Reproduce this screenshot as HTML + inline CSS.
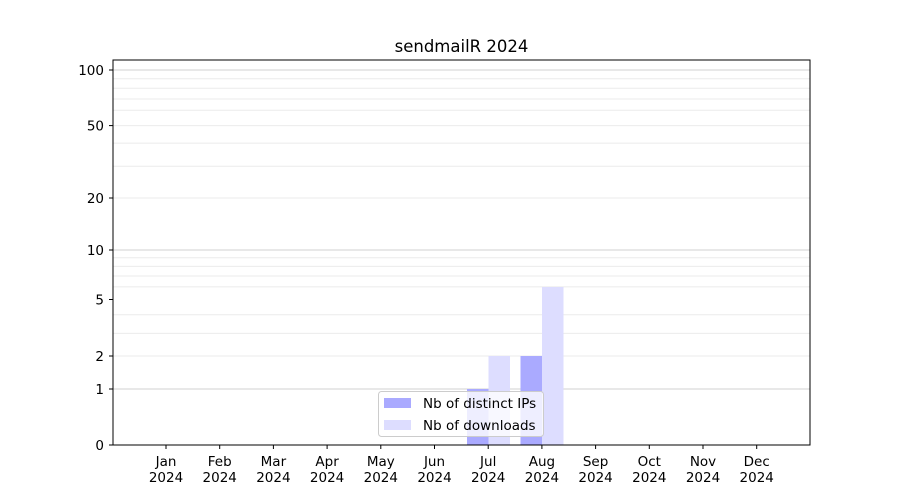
<!DOCTYPE html>
<html><head><meta charset="utf-8"><style>
html,body{margin:0;padding:0;background:#fff;}
svg{display:block;font-family:"DejaVu Sans","Liberation Sans",sans-serif;}
</style></head><body>
<svg width="900" height="500" xmlns="http://www.w3.org/2000/svg">
<rect width="900" height="500" fill="#fff"/>
<g stroke="#ebebeb" stroke-width="1">
<line x1="113" x2="810" y1="333.4" y2="333.4"/>
<line x1="113" x2="810" y1="314.8" y2="314.8"/>
<line x1="113" x2="810" y1="286.9" y2="286.9"/>
<line x1="113" x2="810" y1="276.0" y2="276.0"/>
<line x1="113" x2="810" y1="266.4" y2="266.4"/>
<line x1="113" x2="810" y1="257.8" y2="257.8"/>
<line x1="113" x2="810" y1="198.0" y2="198.0"/>
<line x1="113" x2="810" y1="166.2" y2="166.2"/>
<line x1="113" x2="810" y1="143.1" y2="143.1"/>
<line x1="113" x2="810" y1="125.6" y2="125.6"/>
<line x1="113" x2="810" y1="110.3" y2="110.3"/>
<line x1="113" x2="810" y1="99.0" y2="99.0"/>
<line x1="113" x2="810" y1="88.2" y2="88.2"/>
<line x1="113" x2="810" y1="78.7" y2="78.7"/>
<line x1="113" x2="810" y1="356" y2="356"/>
</g>
<g stroke="#d0d0d0" stroke-width="1">
<line x1="113" x2="810" y1="389" y2="389"/>
<line x1="113" x2="810" y1="250" y2="250"/>
<line x1="113" x2="810" y1="70" y2="70"/>
</g>
<rect x="467" y="389" width="21.5" height="56" fill="#aaaaff"/>
<rect x="488.5" y="356" width="21.5" height="89" fill="#ddddff"/>
<rect x="520.5" y="356" width="21.5" height="89" fill="#aaaaff"/>
<rect x="542" y="287" width="21.5" height="158" fill="#ddddff"/>
<rect x="113" y="60" width="697" height="385" fill="none" stroke="#000" stroke-width="1"/>
<g font-size="13.5" fill="#000" text-anchor="end">
<g stroke="#000"><line x1="109" x2="113" y1="445" y2="445"/><line x1="109" x2="113" y1="389" y2="389"/><line x1="109" x2="113" y1="356" y2="356"/><line x1="109" x2="113" y1="299.5" y2="299.5"/><line x1="109" x2="113" y1="250" y2="250"/><line x1="109" x2="113" y1="198" y2="198"/><line x1="109" x2="113" y1="125.6" y2="125.6"/><line x1="109" x2="113" y1="70" y2="70"/></g>
<text x="104" y="450">0</text><text x="104" y="394">1</text><text x="104" y="361">2</text><text x="104" y="304.5">5</text><text x="104" y="255">10</text><text x="104" y="203">20</text><text x="104" y="130.6">50</text><text x="104" y="75">100</text>
</g>
<text x="461.5" y="52" font-size="16.5" text-anchor="middle">sendmailR 2024</text>
<g font-size="13.5" fill="#000" text-anchor="middle">
<g stroke="#000">
<line x1="166" x2="166" y1="445" y2="449"/><line x1="219.7" x2="219.7" y1="445" y2="449"/><line x1="273.4" x2="273.4" y1="445" y2="449"/><line x1="327.1" x2="327.1" y1="445" y2="449"/><line x1="380.8" x2="380.8" y1="445" y2="449"/><line x1="434.5" x2="434.5" y1="445" y2="449"/><line x1="488.2" x2="488.2" y1="445" y2="449"/><line x1="541.9" x2="541.9" y1="445" y2="449"/><line x1="595.6" x2="595.6" y1="445" y2="449"/><line x1="649.3" x2="649.3" y1="445" y2="449"/><line x1="703" x2="703" y1="445" y2="449"/><line x1="756.7" x2="756.7" y1="445" y2="449"/>
</g>
<text x="166" y="466">Jan</text><text x="166" y="482">2024</text>
<text x="219.7" y="466">Feb</text><text x="219.7" y="482">2024</text>
<text x="273.4" y="466">Mar</text><text x="273.4" y="482">2024</text>
<text x="327.1" y="466">Apr</text><text x="327.1" y="482">2024</text>
<text x="380.8" y="466">May</text><text x="380.8" y="482">2024</text>
<text x="434.5" y="466">Jun</text><text x="434.5" y="482">2024</text>
<text x="488.2" y="466">Jul</text><text x="488.2" y="482">2024</text>
<text x="541.9" y="466">Aug</text><text x="541.9" y="482">2024</text>
<text x="595.6" y="466">Sep</text><text x="595.6" y="482">2024</text>
<text x="649.3" y="466">Oct</text><text x="649.3" y="482">2024</text>
<text x="703" y="466">Nov</text><text x="703" y="482">2024</text>
<text x="756.7" y="466">Dec</text><text x="756.7" y="482">2024</text>
</g>
<rect x="378.5" y="391.5" width="165" height="45" rx="3" fill="#fff" fill-opacity="0.8" stroke="#cccccc"/>
<rect x="384" y="398" width="27" height="10" fill="#aaaaff"/>
<rect x="384" y="420" width="27" height="10" fill="#ddddff"/>
<text x="423" y="408" font-size="13.5">Nb of distinct IPs</text>
<text x="423" y="430" font-size="13.5">Nb of downloads</text>
</svg>
</body></html>
